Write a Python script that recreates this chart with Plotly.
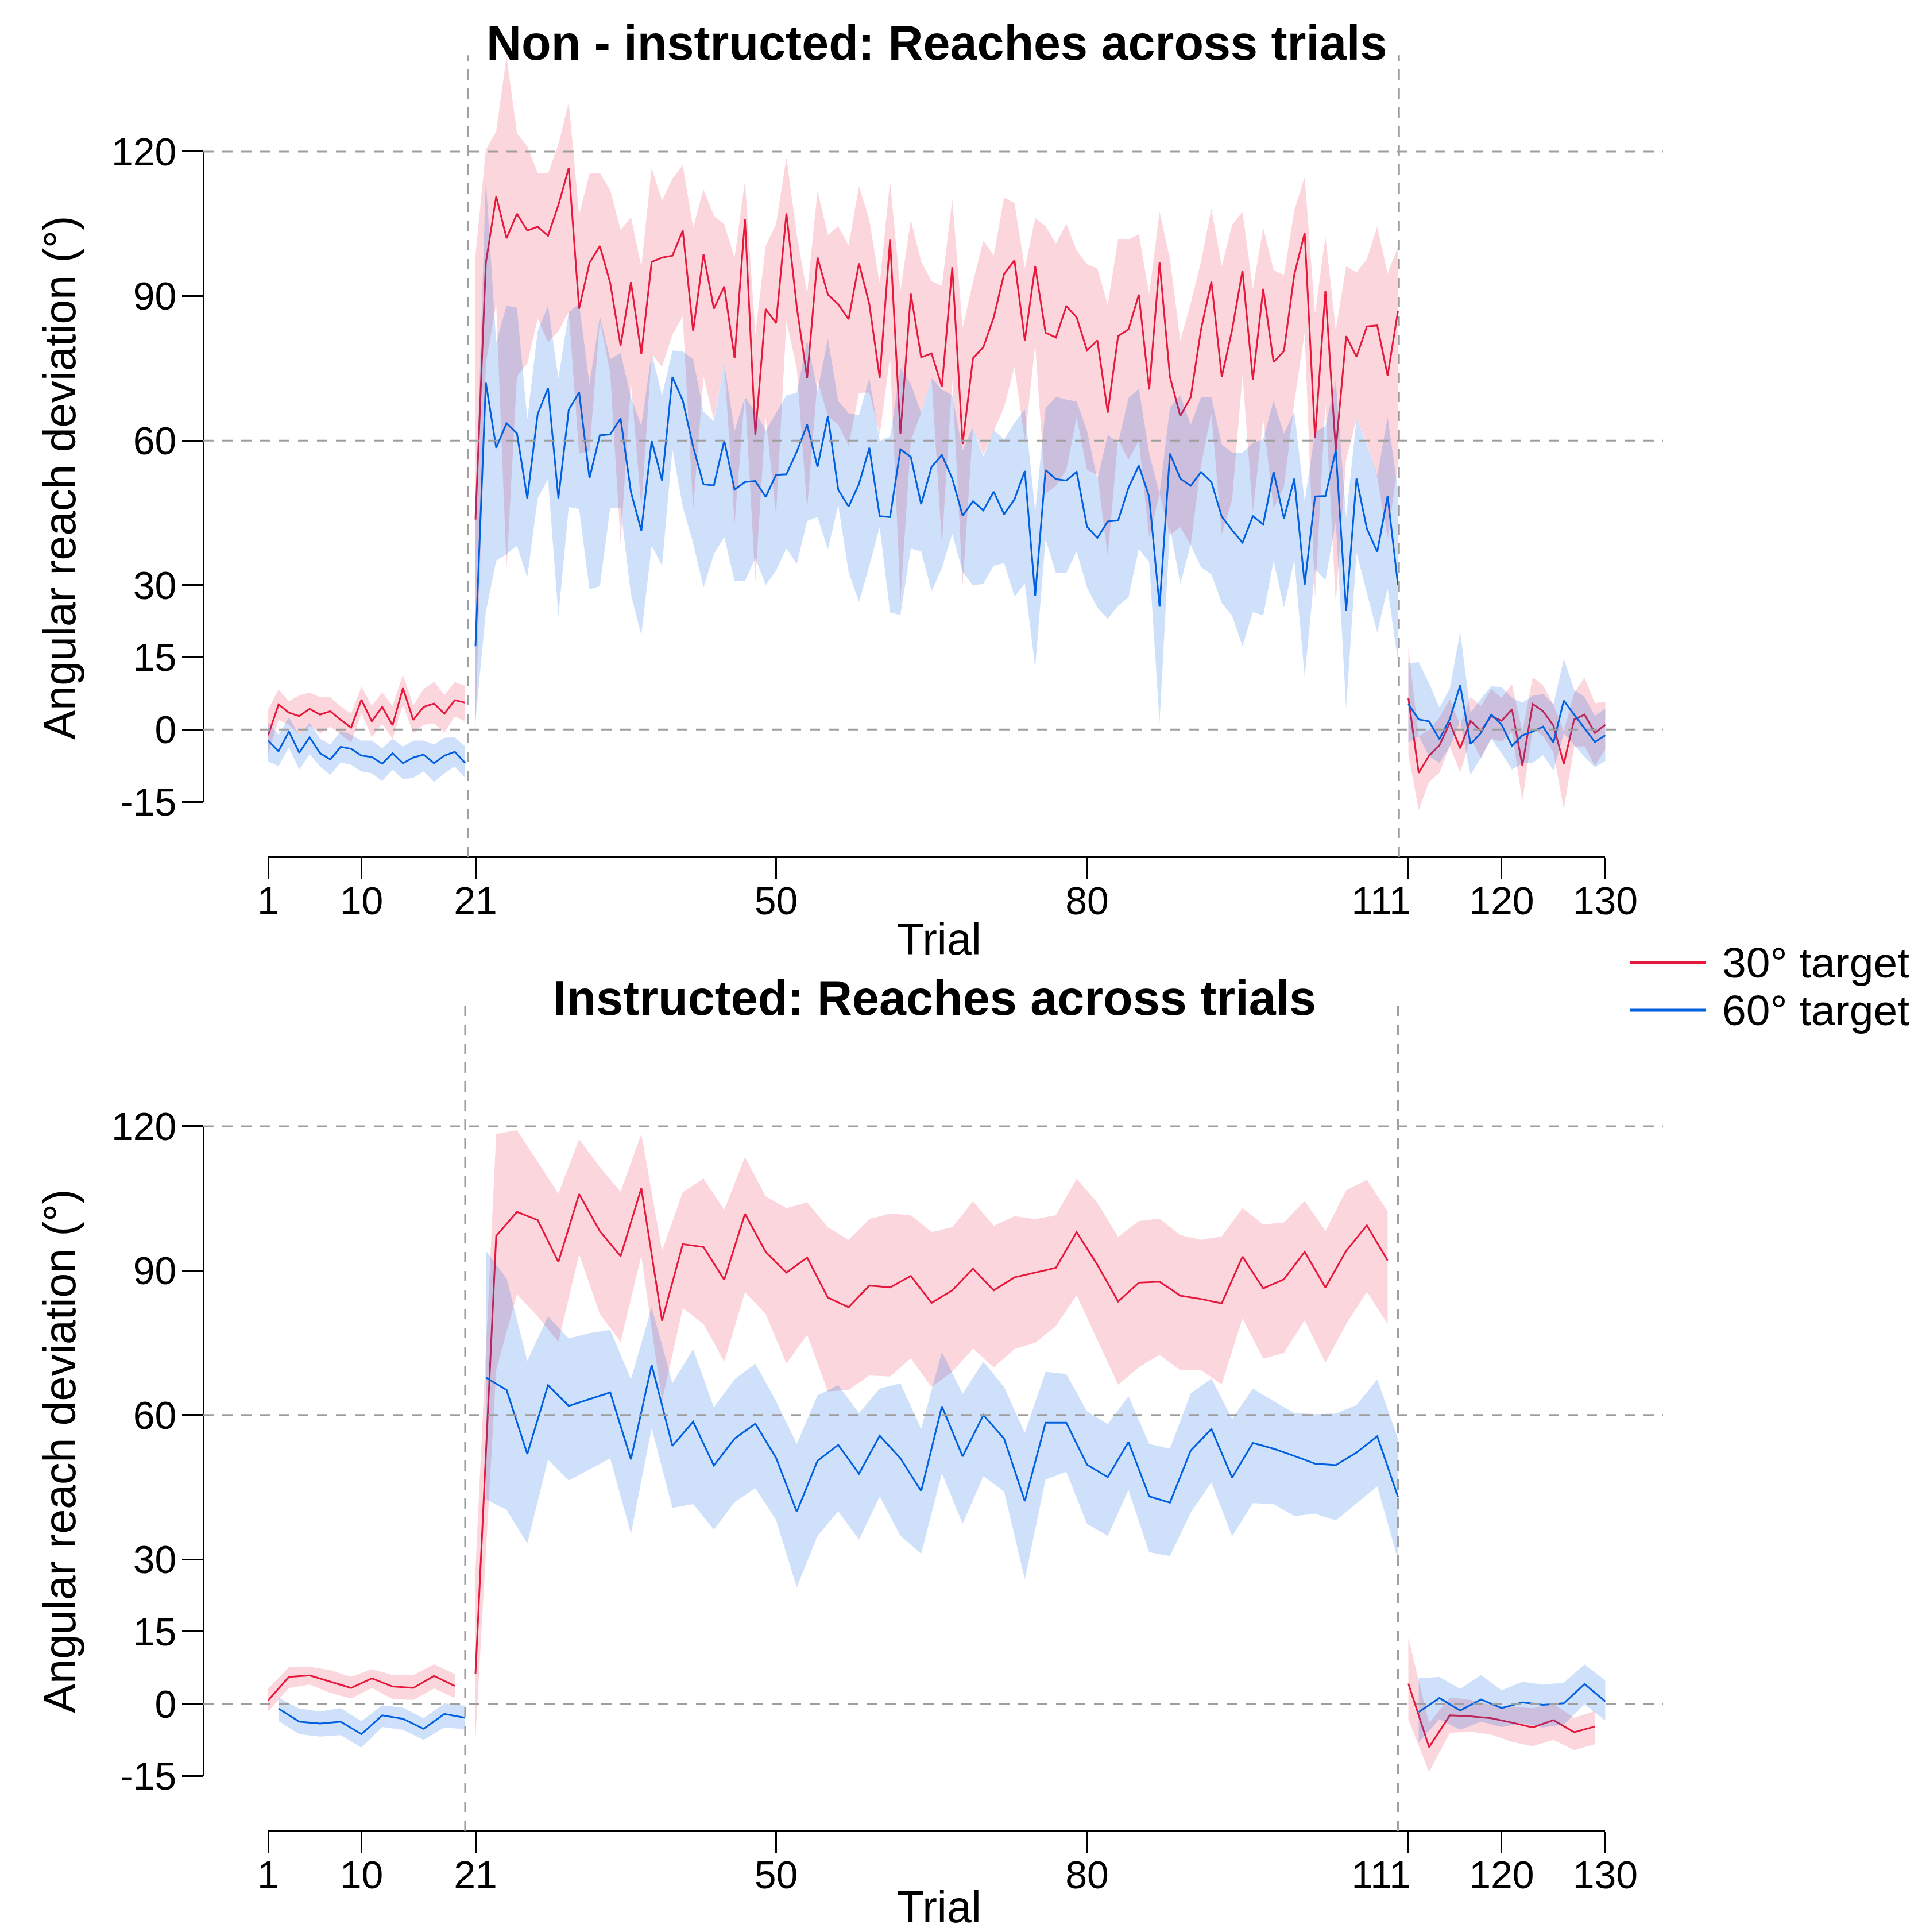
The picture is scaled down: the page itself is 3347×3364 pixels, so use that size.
import plotly.graph_objects as go

W, H = 3347, 3364
FONT = "Liberation Sans, Arial, Helvetica, sans-serif"

# ------------------------------------------------------------------ data
phases = [(1, 20), (21, 110), (111, 130)]
x_ticks = [1, 10, 21, 50, 80, 111, 120, 130]
x_tick_labels = ["1", "10", "21", "50", "80", "111", "120", "130"]
y_ticks = [-15, 0, 15, 30, 60, 90, 120]
grid_levels = [0, 60, 120]
titles = ["Non - instructed: Reaches across trials", "Instructed: Reaches across trials"]
series_names = ["30° target", "60° target"]

# ---- Top panel (non-instructed): every trial 1..130 for both targets
top_red_mean = [
    -1.2, 5.2, 3.5, 2.8, 4.3, 3.1, 3.8, 2.0, 0.4, 6.2, 1.7, 4.7, 0.9, 8.6, 2.0, 4.7, 5.4, 3.3, 6.1, 5.6,
    43.6, 96.9, 110.7, 102.0, 107.1, 103.6, 104.4, 102.5, 108.9, 116.6, 87.4, 96.9, 100.4, 92.7, 79.7,
    92.9, 78.0, 97.1, 98.0, 98.4, 103.6, 82.7, 98.7, 87.4, 92.0, 77.1, 106.0, 61.1, 87.3, 84.4,
    107.2, 87.7, 73.0, 98.0, 90.3, 88.3, 85.2, 96.8, 88.3, 73.0, 101.7, 61.4, 90.5, 77.3, 78.1,
    71.2, 96.0, 59.3, 77.1, 79.4, 85.6, 94.6, 97.4, 80.8, 96.2, 82.4, 81.4, 87.9, 85.6, 78.7,
    80.8, 65.8, 81.7, 83.1, 90.3, 70.6, 97.0, 73.2, 65.1, 69.0, 83.1, 93.0, 73.2, 83.0, 95.3,
    72.6, 91.5, 76.3, 78.6, 94.5, 103.1, 60.5, 91.1, 58.0, 81.7, 77.4, 83.7, 83.9, 73.5, 86.9,
    6.6, -9.0, -5.4, -3.3, 1.4, -3.9, 1.8, -0.3, 2.8, 1.8, 4.2, -7.5, 5.3, 3.8, 0.8, -7.1, 2.1, 3.1, -0.7, 1.0]
top_red_upper = [
    4.2, 8.3, 5.9, 7.1, 7.7, 6.7, 6.7, 4.8, 3.3, 8.9, 5.0, 7.7, 4.9, 11.4, 5.0, 8.4, 9.9, 7.2, 9.8, 9.1,
    98.4, 120.4, 124.2, 139.8, 123.8, 121.1, 115.6, 115.5, 121.5, 130.2, 106.9, 115.4, 115.6, 112.0, 103.7,
    106.4, 96.1, 116.6, 109.8, 114.4, 117.2, 104.2, 112.2, 106.7, 104.9, 98.0, 114.0, 82.0, 100.4, 104.9,
    118.8, 102.7, 90.5, 111.9, 102.7, 104.5, 100.5, 112.8, 105.8, 92.6, 113.9, 91.1, 105.8, 97.2, 93.1,
    92.1, 110.1, 83.4, 93.0, 101.5, 98.4, 110.5, 109.3, 95.8, 106.2, 104.5, 100.9, 105.0, 99.5, 96.6,
    95.8, 88.1, 101.9, 101.7, 102.9, 90.3, 107.5, 97.7, 80.8, 88.4, 97.2, 108.2, 96.2, 104.8, 107.5,
    91.5, 104.2, 95.4, 94.4, 107.8, 114.7, 86.3, 102.4, 83.0, 96.2, 94.9, 97.7, 104.4, 94.7, 100.2,
    16.9, -1.4, 0.0, 2.5, 6.3, 1.0, 6.8, 4.9, 8.4, 6.6, 9.4, -0.4, 10.9, 9.2, 5.2, -0.4, 7.6, 10.8, 5.5, 5.8]
top_red_lower = [
    -5.1, 2.0, 1.0, -1.1, 0.8, -0.8, 0.6, -1.0, -2.7, 3.4, -1.6, 1.2, -1.9, 5.2, -0.8, 1.0, 1.3, -0.6, 2.7, 1.7,
    0.0, 76.0, 88.4, 33.3, 73.3, 76.0, 85.3, 80.4, 82.7, 86.7, 57.3, 57.8, 85.0, 74.0, 38.7,
    72.0, 46.0, 78.0, 75.3, 82.0, 85.8, 45.8, 73.3, 64.4, 76.0, 42.7, 69.8, 30.7, 64.9, 44.5,
    84.8, 75.0, 45.8, 72.6, 65.0, 63.3, 58.9, 69.9, 70.0, 61.2, 77.5, 26.6, 60.0, 65.7, 73.0,
    38.4, 72.6, 29.9, 62.8, 57.1, 62.0, 66.9, 75.3, 60.0, 80.0, 49.0, 50.6, 53.9, 64.9, 53.9,
    52.9, 36.0, 60.3, 56.0, 60.0, 39.8, 48.9, 40.4, 42.1, 38.3, 55.0, 65.6, 40.5, 47.8, 73.6,
    45.1, 64.5, 45.9, 50.4, 67.9, 82.4, 27.2, 67.9, 26.1, 56.1, 64.5, 59.5, 52.3, 39.8, 55.0,
    -5.1, -16.7, -10.9, -9.0, -3.5, -8.9, -1.9, -5.9, -1.9, -2.5, -0.6, -14.9, 0.2, -1.4, -4.7, -16.6, -3.5, -3.5, -7.5, -4.1]
top_blue_mean = [
    -2.3, -4.5, -0.4, -4.8, -1.6, -4.9, -6.2, -3.6, -4.0, -5.4, -5.7, -7.1, -4.9, -7.0, -5.8, -5.2, -7.0, -5.4, -4.6, -6.9,
    17.3, 72.0, 58.5, 63.6, 61.5, 48.0, 65.5, 70.9, 48.0, 66.4, 70.0, 52.2, 61.1, 61.3, 64.6,
    49.3, 41.3, 60.0, 51.7, 73.2, 68.3, 58.7, 50.9, 50.7, 60.0, 49.8, 51.4, 51.6, 48.3, 52.9,
    53.0, 57.7, 63.3, 54.5, 65.1, 49.8, 46.3, 51.0, 58.5, 44.3, 44.1, 58.2, 56.6, 46.8, 54.5,
    57.0, 52.1, 44.4, 47.4, 45.5, 49.4, 44.7, 47.8, 53.7, 27.8, 53.9, 52.0, 51.7, 53.5, 42.1,
    39.8, 43.2, 43.4, 50.2, 54.8, 48.3, 25.5, 57.3, 52.1, 50.6, 53.5, 51.4, 44.2, 41.4, 38.8,
    44.3, 42.6, 53.5, 43.8, 52.1, 30.1, 48.4, 48.5, 58.0, 24.6, 52.1, 41.7, 36.9, 48.5, 30.0,
    5.3, 2.1, 1.7, -2.0, 2.2, 9.2, -3.0, -0.7, 3.1, 1.0, -3.4, -1.2, -0.4, 0.6, -2.7, 6.0, 3.1, 0.2, -2.6, -1.2]
top_blue_upper = [
    1.4, -1.1, 2.5, -1.2, 1.4, -1.9, -3.1, -0.3, -1.0, -2.3, -2.3, -3.9, -1.9, -3.5, -2.3, -2.3, -3.1, -1.7, -1.6, -3.5,
    45.0, 114.2, 80.4, 88.0, 87.6, 64.4, 82.7, 88.0, 72.9, 86.7, 88.4, 71.6, 85.8, 76.9, 78.2,
    68.9, 63.1, 78.2, 69.3, 78.7, 78.5, 76.9, 66.0, 64.0, 76.0, 62.0, 69.0, 66.0, 62.0, 65.7,
    69.4, 69.9, 80.8, 70.2, 81.2, 68.2, 65.7, 65.3, 73.0, 60.0, 60.8, 75.1, 71.8, 65.7, 73.0,
    70.6, 69.4, 58.0, 62.8, 56.7, 62.2, 60.2, 63.7, 66.5, 45.3, 66.7, 69.1, 68.5, 68.1, 62.0,
    51.9, 61.2, 59.5, 68.8, 70.8, 57.3, 48.9, 66.8, 69.4, 63.3, 69.0, 69.0, 59.2, 57.5, 57.5,
    59.5, 60.3, 68.3, 61.4, 66.0, 47.4, 61.8, 63.0, 72.5, 44.0, 64.5, 59.2, 52.7, 64.9, 49.7,
    13.8, 14.0, 9.6, 4.6, 8.5, 20.3, 3.5, 6.4, 9.0, 8.8, 6.6, 5.6, 7.0, 7.4, 5.2, 14.7, 8.2, 6.8, 2.8, 4.4]
top_blue_lower = [
    -6.6, -7.6, -3.7, -8.3, -5.1, -7.7, -9.4, -6.8, -7.3, -8.7, -9.1, -10.7, -8.3, -10.3, -10.0, -8.7, -10.9, -9.1, -7.7, -10.1,
    2.0, 24.4, 35.1, 36.4, 38.2, 31.6, 48.0, 52.0, 23.6, 46.2, 45.8, 29.1, 29.8, 46.0, 46.0,
    28.0, 19.6, 38.2, 34.0, 58.2, 46.2, 38.7, 29.5, 36.4, 40.0, 30.8, 30.8, 35.6, 30.0, 33.0,
    37.6, 34.4, 43.3, 44.1, 37.4, 46.6, 32.7, 26.5, 34.0, 42.1, 24.3, 23.8, 37.6, 37.0, 28.7,
    33.5, 40.6, 32.7, 29.9, 30.3, 34.0, 34.6, 27.6, 30.3, 12.8, 39.6, 32.5, 32.5, 37.0, 29.5,
    25.3, 23.0, 25.7, 27.4, 37.5, 34.8, 1.4, 42.0, 30.3, 38.3, 33.7, 32.2, 26.3, 23.6, 17.3,
    24.4, 23.7, 35.0, 25.3, 35.2, 10.9, 33.3, 31.0, 43.2, 4.4, 36.7, 28.4, 20.2, 29.3, 14.1,
    -2.7, -1.4, -5.5, -6.9, -3.5, 1.8, -9.4, -5.9, -1.9, -4.9, -8.3, -7.0, -6.9, -5.3, -8.5, -0.8, -3.3, -5.7, -7.8, -6.5]

# ---- Bottom panel (instructed): 30° target on odd trials, 60° target on even trials
bot_red_trials = list(range(1, 130, 2))
bot_red_mean = [
    0.7, 5.6, 5.9, 4.6, 3.3, 5.3, 3.6, 3.3, 5.8, 3.7,
    6.2, 97.2, 102.2, 100.5, 91.8, 105.9, 98.2, 93.0, 107.1, 79.6, 95.5, 94.9, 88.1, 101.8, 93.9,
    89.6, 92.7, 84.4, 82.4, 86.9, 86.5, 88.9,
    83.3, 85.9, 90.4, 85.9, 88.6, 89.6, 90.6, 98.0, 91.2, 83.6, 87.5, 87.7, 84.8, 84.1, 83.2,
    92.9, 86.3, 88.2, 93.9, 86.5, 94.1, 99.4, 92.1,
    4.2, -9.0, -2.4, -2.6, -3.0, -3.9, -4.9, -3.4, -5.9, -4.7]
bot_red_upper = [
    3.2, 7.6, 7.7, 7.0, 5.6, 7.2, 6.0, 6.0, 8.2, 6.2,
    28.0, 118.4, 119.2, 112.6, 106.0, 117.3, 111.5, 106.4, 118.4, 94.1, 106.3, 109.1, 102.6, 113.6, 105.4,
    103.0, 104.2, 99.0, 96.4, 100.7, 101.9, 101.5,
    98.0, 99.0, 104.4, 99.3, 101.3, 100.7, 101.5, 109.1, 104.1, 97.0, 100.3, 100.8, 97.4, 96.4, 97.1,
    103.0, 99.6, 100.0, 104.5, 98.2, 106.7, 108.9, 102.3,
    13.7, -4.0, 1.3, 0.8, -0.2, -0.6, -0.9, 0.0, -2.9, -1.5]
bot_red_lower = [
    -1.6, 3.3, 4.0, 2.3, 1.1, 3.3, 1.0, 0.8, 3.2, 1.2,
    -7.0, 69.4, 85.1, 80.5, 75.2, 93.4, 81.0, 75.2, 93.1, 62.9, 82.2, 78.9, 71.1, 85.5, 81.0,
    70.7, 76.7, 64.9, 65.2, 68.2, 68.0, 71.8,
    65.8, 69.0, 73.8, 69.9, 73.7, 75.0, 78.5, 84.9, 75.6, 66.3, 69.9, 72.5, 69.3, 69.3, 66.4,
    80.1, 71.7, 72.9, 79.7, 70.9, 78.9, 85.6, 78.9,
    -3.2, -14.2, -6.0, -5.8, -6.4, -7.9, -8.8, -7.5, -9.6, -8.4]
bot_blue_trials = list(range(2, 131, 2))
bot_blue_mean = [
    -1.0, -3.7, -4.1, -3.7, -6.3, -2.4, -3.1, -5.2, -2.1, -2.9,
    67.8, 65.2, 51.9, 66.2, 61.9, 63.3, 64.7, 50.8, 70.4, 53.6, 58.6, 49.5, 55.1, 58.2, 51.1,
    39.9, 50.5, 53.8, 47.8, 55.7, 51.0,
    44.2, 61.8, 51.4, 60.0, 55.1, 42.1, 58.4, 58.4, 49.7, 47.1, 54.4, 43.1, 41.8, 52.6, 57.1,
    47.0, 54.2, 53.0, 51.5, 49.9, 49.6, 52.2, 55.6, 43.0,
    -1.7, 1.2, -1.4, 0.9, -0.9, 0.3, -0.2, 0.1, 4.1, 0.5]
bot_blue_upper = [
    1.3, -1.0, -1.6, -0.9, -3.6, -0.3, -0.8, -3.0, 0.1, -0.4,
    94.1, 88.4, 71.3, 80.5, 75.9, 77.0, 77.7, 67.4, 82.4, 66.6, 73.7, 61.6, 67.4, 70.7, 62.9,
    54.0, 64.1, 66.2, 60.4, 65.5, 66.6,
    57.1, 73.1, 64.4, 71.1, 65.8, 56.3, 69.0, 68.5, 60.8, 58.1, 63.9, 54.0, 53.0, 64.5, 67.6,
    59.2, 65.5, 62.9, 60.4, 60.2, 60.3, 62.1, 67.4, 55.1,
    5.3, 5.6, 3.1, 6.0, 2.8, 4.6, 4.0, 4.4, 8.2, 4.9]
bot_blue_lower = [
    -3.6, -6.3, -6.8, -6.5, -9.1, -4.8, -5.4, -7.5, -4.9, -5.3,
    42.5, 40.3, 33.3, 50.7, 46.4, 48.7, 51.0, 35.3, 57.3, 40.7, 41.5, 36.2, 41.9, 44.8, 38.2,
    24.2, 34.9, 40.0, 34.1, 43.1, 34.9,
    31.2, 47.9, 37.4, 47.3, 44.1, 25.9, 46.6, 48.2, 37.4, 34.9, 44.4, 31.5, 30.7, 39.7, 46.0,
    34.8, 41.7, 41.5, 39.0, 39.5, 38.1, 41.7, 45.2, 30.0,
    -8.0, -3.2, -5.4, -3.7, -4.8, -4.0, -4.9, -4.3, -0.1, -3.5]
top_trials = list(range(1, 131))

# ------------------------------------------------------------------ styling
RED = "#E6193C"
BLUE = "#0060E0"
RED_FILL = "rgba(232,25,60,0.18)"
BLUE_FILL = "rgba(0,94,226,0.19)"
GRID = "#9E9E9E"
NBSP = "\u00a0"
# the "111" label sits left of its tick in the original; pad it on the right
tick_text = [t + NBSP * 5 if t == "111" else t for t in x_tick_labels]

# pixel calibration of the picture
PX_T1, PX_PER_TRIAL = 467.0, 18.05
panels = [
    dict(zero=1270.3, per=8.386, dom_px=(0, 1640), axis_px=1492, vlines=(20.25, 110.1), vtop=140.0),
    dict(zero=2966.7, per=8.381, dom_px=(1640, H), axis_px=3188, vlines=(20.0, 110.0), vtop=145.3),
]


def py(p):
    return 1 - p / H


fig = go.Figure()
x_range = [1 - PX_T1 / PX_PER_TRIAL, 1 + (W - PX_T1) / PX_PER_TRIAL]
x_left = 1 + (354 - PX_T1) / PX_PER_TRIAL
x_right = 1 + (2896 - PX_T1) / PX_PER_TRIAL


def segs(trials, *arrs):
    out = []
    for a, b in phases:
        idx = [i for i, t in enumerate(trials) if a <= t <= b]
        out.append(([trials[i] for i in idx],) + tuple([arr[i] for i in idx] for arr in arrs))
    return out


panel_data = [
    [(top_trials, top_red_mean, top_red_upper, top_red_lower, RED, RED_FILL),
     (top_trials, top_blue_mean, top_blue_upper, top_blue_lower, BLUE, BLUE_FILL)],
    [(bot_red_trials, bot_red_mean, bot_red_upper, bot_red_lower, RED, RED_FILL),
     (bot_blue_trials, bot_blue_mean, bot_blue_upper, bot_blue_lower, BLUE, BLUE_FILL)],
]

shapes = []
annotations = []
layout_axes = {}
for pi, (pdef, series) in enumerate(zip(panels, panel_data)):
    yname = "y" if pi == 0 else "y2"
    ykey = "yaxis" if pi == 0 else "yaxis2"
    d0, d1 = pdef["dom_px"]
    layout_axes[ykey] = dict(
        domain=[py(d1), py(d0)],
        range=[(pdef["zero"] - d1) / pdef["per"], (pdef["zero"] - d0) / pdef["per"]],
        visible=False, fixedrange=True, anchor="x", automargin=False)
    for trials, mean, up, lo, col, fill in series:
        for st, su, sl in [(s[0], s[2], s[3]) for s in segs(trials, mean, up, lo)]:
            fig.add_trace(go.Scatter(
                x=st + st[::-1], y=su + sl[::-1], fill="toself", fillcolor=fill,
                line=dict(width=0), mode="lines", hoverinfo="skip", showlegend=False,
                xaxis="x", yaxis=yname))
        for st, sm in [(s[0], s[1]) for s in segs(trials, mean)]:
            fig.add_trace(go.Scatter(
                x=st, y=sm, mode="lines", line=dict(color=col, width=3),
                showlegend=False, xaxis="x", yaxis=yname))
    # dashed reference lines
    for g in grid_levels:
        shapes.append(dict(type="line", xref="x", yref=yname, x0=x_left, x1=x_right, y0=g, y1=g,
                           line=dict(color=GRID, width=3, dash="18px,15px")))
    ybot = (pdef["zero"] - pdef["axis_px"]) / pdef["per"]
    for v in pdef["vlines"]:
        shapes.append(dict(type="line", xref="x", yref=yname, x0=v, x1=v, y0=ybot, y1=pdef["vtop"],
                           line=dict(color=GRID, width=3, dash="18px,15px")))
    # visible axes (R style, detached)
    xk = "xaxis%d" % (3 + pi)
    yk = "yaxis%d" % (3 + pi)
    layout_axes[xk] = dict(
        domain=[PX_T1 / W, (PX_T1 + 129 * PX_PER_TRIAL) / W], range=[1, 130],
        anchor="free", position=py(pdef["axis_px"]), automargin=False,
        tickmode="array", tickvals=x_ticks, ticktext=tick_text,
        ticks="outside", ticklen=36, tickwidth=3, tickcolor="black",
        showline=True, linewidth=3, linecolor="black", showgrid=False, zeroline=False,
        tickfont=dict(family=FONT, size=68, color="black"), ticklabelstandoff=-20, fixedrange=True)
    ytop_px = pdef["zero"] - 120 * pdef["per"]
    ybot_px = pdef["zero"] + 15 * pdef["per"]
    layout_axes[yk] = dict(
        domain=[py(ybot_px), py(ytop_px)], range=[-15, 120],
        anchor="free", position=354 / W, automargin=False,
        tickmode="array", tickvals=y_ticks, ticktext=[str(t) for t in y_ticks],
        ticks="outside", ticklen=36, tickwidth=3, tickcolor="black",
        showline=True, linewidth=3, linecolor="black", showgrid=False, zeroline=False,
        tickfont=dict(family=FONT, size=68, color="black"), ticklabelstandoff=-4, fixedrange=True)
    fig.add_trace(go.Scatter(x=[1, 130], y=[0, 0], xaxis="x%d" % (3 + pi), yaxis=yname,
                             mode="markers", marker=dict(opacity=0), hoverinfo="skip", showlegend=False))
    fig.add_trace(go.Scatter(x=[1, 1], y=[-15, 120], xaxis="x", yaxis="y%d" % (3 + pi),
                             mode="markers", marker=dict(opacity=0), hoverinfo="skip", showlegend=False))

# titles and axis labels
title_pos = [(1631, 75), (1627, 1738)]
trial_pos = [1635, 1635]
ylab_pos = [(104, 832), (104, 2527)]
for pi in range(2):
    annotations.append(dict(text="<b>%s</b>" % titles[pi], x=title_pos[pi][0] / W, y=py(title_pos[pi][1]),
                            xref="paper", yref="paper", showarrow=False, xanchor="center", yanchor="middle",
                            font=dict(family=FONT, size=84.5, color="black")))
    annotations.append(dict(text="Angular reach deviation (°)", x=ylab_pos[pi][0] / W, y=py(ylab_pos[pi][1]),
                            xref="paper", yref="paper", showarrow=False, xanchor="center", yanchor="middle",
                            textangle=-90, font=dict(family=FONT, size=77, color="black")))
annotations.append(dict(text="Trial", x=trial_pos[0] / W, y=py(trial_pos[1]),
                        xref="paper", yref="paper", showarrow=False, xanchor="center", yanchor="middle",
                        font=dict(family=FONT, size=77, color="black")))
annotations.append(dict(text="Trial", x=trial_pos[0] / W, y=0.0, borderpad=0,
                        xref="paper", yref="paper", showarrow=False, xanchor="center", yanchor="bottom",
                        font=dict(family=FONT, size=77, color="black")))

# legend (drawn manually to match the long R legend keys)
for name, col, ly in [(series_names[0], RED, 1676), (series_names[1], BLUE, 1759)]:
    shapes.append(dict(type="line", xref="paper", yref="paper", x0=2838 / W, x1=2970 / W,
                       y0=py(ly), y1=py(ly), line=dict(color=col, width=5)))
    annotations.append(dict(text=name, x=2997 / W, y=py(ly), xref="paper", yref="paper",
                            showarrow=False, xanchor="left", yanchor="middle",
                            font=dict(family=FONT, size=75, color="black")))

fig.update_layout(
    width=W, height=H, margin=dict(l=0, r=0, t=0, b=0, autoexpand=False),
    paper_bgcolor="white", plot_bgcolor="rgba(0,0,0,0)",
    showlegend=False, shapes=shapes, annotations=annotations,
    xaxis=dict(domain=[0, 1], range=x_range, visible=False, fixedrange=True, anchor="y", automargin=False),
    **layout_axes)

fig.write_html("out.html", config={"displayModeBar": False},
               post_script="document.body.style.margin='0';document.body.style.padding='0';")
